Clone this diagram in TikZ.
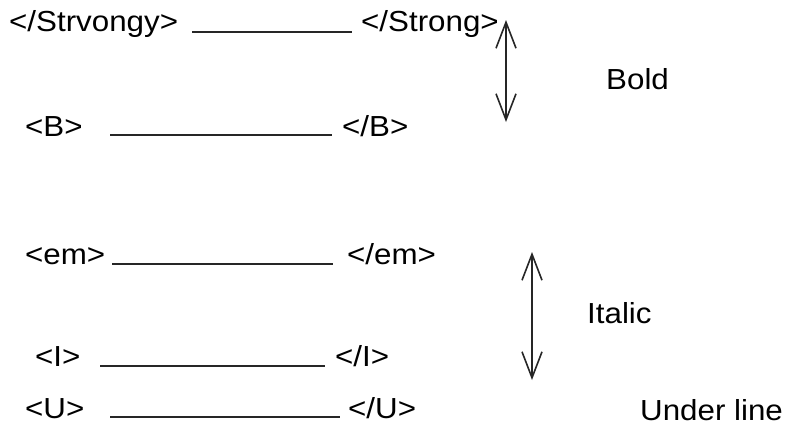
\documentclass[tikz,border=0pt]{standalone}
\usepackage{fontspec}
\setmainfont[FakeStretch=1.08]{Liberation Sans}
\usetikzlibrary{arrows.meta}
\begin{document}
\begin{tikzpicture}[x=1pt,y=-1pt,
  tag/.style={anchor=base west,inner sep=0pt,font=\fontsize{29}{29}\selectfont},
  blank/.style={line width=1.8pt,black!85},
  twohead/.style={line width=1.6pt,black!85,{Straight Barb[length=26pt,width=20pt,line width=1.6pt]}-{Straight Barb[length=26pt,width=20pt,line width=1.6pt]}}]
\useasboundingbox[fill=white] (0,0) rectangle (786,439);

% Bold pair
\node[tag] (s1) at (9,31) {</Strvongy>};
\node[tag] (s2) at (361,31) {</Strong>};
\coordinate (l1a) at (192,32); \coordinate (l1b) at (352,32);
\draw[blank] (l1a) -- (l1b);

\node[tag] (b1) at (25,136) {<B>};
\node[tag] (b2) at (342,136) {</B>};
\coordinate (l2a) at (110,135); \coordinate (l2b) at (332,135);
\draw[blank] (l2a) -- (l2b);

\coordinate (a1t) at (506,20); \coordinate (a1b) at (506,122);
\draw[twohead] (a1t) -- (a1b);
\node[tag] (bold) at (606,89) {Bold};

% Italic pair
\node[tag] (e1) at (25,264) {<em>};
\node[tag] (e2) at (347,264) {</em>};
\coordinate (l3a) at (112,264); \coordinate (l3b) at (333,264);
\draw[blank] (l3a) -- (l3b);

\node[tag] (i1) at (35,366) {<I>};
\node[tag] (i2) at (335,366) {</I>};
\coordinate (l4a) at (100,366); \coordinate (l4b) at (325,366);
\draw[blank] (l4a) -- (l4b);

\coordinate (a2t) at (532,252); \coordinate (a2b) at (532,380);
\draw[twohead] (a2t) -- (a2b);
\node[tag] (italic) at (587,323) {Italic};

% Underline
\node[tag] (u1) at (25,418) {<U>};
\node[tag] (u2) at (348,418) {</U>};
\coordinate (l5a) at (110,417); \coordinate (l5b) at (340,417);
\draw[blank] (l5a) -- (l5b);
\node[tag] (under) at (640,420) {Under line};
\end{tikzpicture}
\end{document}
